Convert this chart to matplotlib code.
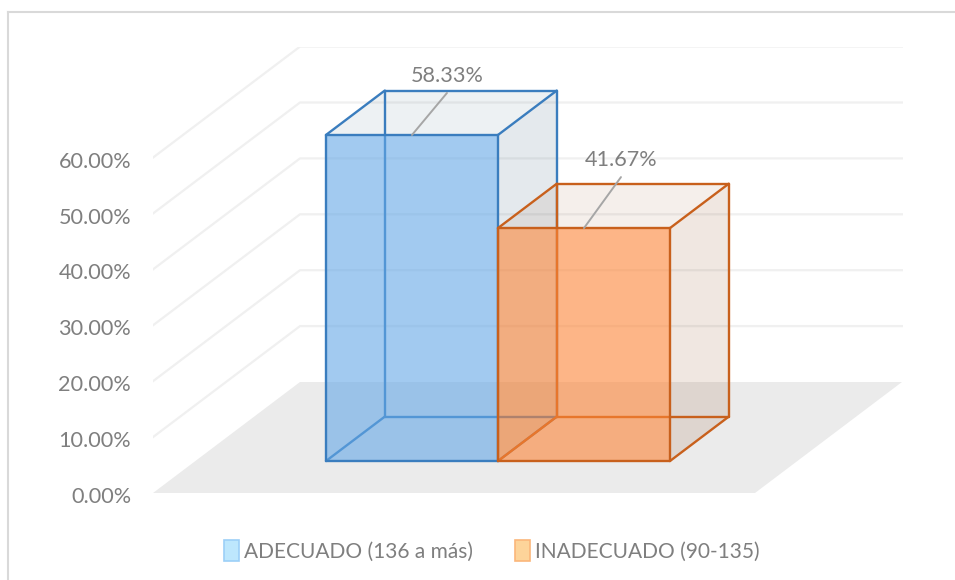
import matplotlib
matplotlib.use("Agg")
import matplotlib.pyplot as plt
from matplotlib.lines import Line2D
from matplotlib.patches import Patch
from matplotlib.transforms import ScaledTranslation

plt.rcParams['font.family'] = ['Lato', 'DejaVu Sans']

series = ["ADECUADO (136 a más)", "INADECUADO (90-135)"]
values = [58.33, 41.67]
yticks = [0, 10, 20, 30, 40, 50, 60]

text_col = "#7F7F7F"
grid_col = "#F0F0F0"
floor_col = "#EBEBEB"
edge_cols = ["#3A7DBE", "#C8601C"]
front_cols = ["#64A7E6", "#FC8537"]
side_cols = ["#24506F", "#843C0C"]
legend_face = ["#BDE7FD", "#FDD49A"]
legend_edge = ["#9CCFF7", "#FBB67A"]

W, H = 955, 580
fig = plt.figure(figsize=(W / 100, H / 100), dpi=100)

# axes run from the floor corner to the far end of the back wall
left, right, top, bottom = 153, 903, 47, 493
ax = fig.add_axes([left / W, 1 - bottom / H, (right - left) / W, (bottom - top) / H])
px_per_x = 602
px_per_val = 5.59
ax.set_xlim(0, (right - left) / px_per_x)
ax.set_ylim(0, (bottom - top) / px_per_val)

depth_x = 147 / px_per_x
depth_y = 111 / px_per_val


def proj(x, v, d):
    # d is depth into the chart, 0 at the front and 1 at the back wall
    return x + d * depth_x, v + d * depth_y


def face(pts, **kw):
    xs, ys = zip(*[proj(*p) for p in pts])
    ax.fill(xs, ys, lw=0, **kw)


def edge(a, b, col, z, lw=1.7):
    xa, ya = proj(*a)
    xb, yb = proj(*b)
    ax.plot([xa, xb], [ya, yb], color=col, lw=lw, zorder=z, solid_capstyle='round')


# floor and gridlines
face([(0, 0, 0), (1, 0, 0), (1, 0, 1), (0, 0, 1)], color=floor_col, zorder=1)
for t in yticks[1:]:
    xs, ys = zip(proj(0, t, 0), proj(0, t, 1), proj(1, t, 1))
    ax.plot(xs, ys, color=grid_col, lw=1.6, zorder=1)

# bars
bar_w = 172 / px_per_x
x0 = 0.217
d0 = 0.288
d1 = 0.688
for i, v in enumerate(values):
    a = x0 + i * bar_w
    b = a + bar_w
    z = 2 + i * 3
    c = edge_cols[i]
    # back part
    face([(a, v, d0), (b, v, d0), (b, v, d1), (a, v, d1)], color=side_cols[i], alpha=0.08, zorder=z)
    face([(b, 0, d0), (b, v, d0), (b, v, d1), (b, 0, d1)], color=side_cols[i], alpha=0.12, zorder=z)
    edge((a, 0, d1), (a, v, d1), c, z)
    edge((b, 0, d1), (b, v, d1), c, z)
    edge((a, 0, d1), (b, 0, d1), c, z)
    edge((a, v, d1), (b, v, d1), c, z)
    edge((a, 0, d0), (a, 0, d1), c, z)
    edge((b, 0, d0), (b, 0, d1), c, z)
    # front part
    face([(a, 0, d0), (b, 0, d0), (b, v, d0), (a, v, d0)], color=front_cols[i], alpha=0.6, zorder=z + 1)
    edge((a, v, d0), (a, v, d1), c, z + 2)
    edge((b, v, d0), (b, v, d1), c, z + 2)
    edge((a, 0, d0), (b, 0, d0), c, z + 2)
    edge((a, v, d0), (b, v, d0), c, z + 2)
    edge((a, 0, d0), (a, v, d0), c, z + 2)
    edge((b, 0, d0), (b, v, d0), c, z + 2)

# data labels with leader lines
offsets = [(35, 59), (37, 68)]
for i, v in enumerate(values):
    mid = x0 + (i + 0.5) * bar_w
    xy = proj(mid, v, d0)
    dx, dy = offsets[i]
    ax.annotate("%.2f%%" % v, xy=xy, xytext=(dx * 0.72, dy * 0.72), textcoords='offset points',
                ha='center', va='center', fontsize=15.6, color=text_col, zorder=20)
    ax.annotate("", xy=xy, xytext=(dx * 0.72, (dy - 17) * 0.72), textcoords='offset points', zorder=20,
                arrowprops=dict(arrowstyle='-', color="#A6A6A6", lw=1.4, shrinkA=0, shrinkB=0))

ax.set_xticks([])
ax.set_yticks(yticks)
ax.set_yticklabels(["%.2f%%" % t for t in yticks], fontsize=15.6, color=text_col)
ax.tick_params(axis='y', length=0, pad=15.8)
shift = ScaledTranslation(0, -2 / 100, fig.dpi_scale_trans)
for lab in ax.get_yticklabels():
    lab.set_transform(lab.get_transform() + shift)
for s in ax.spines.values():
    s.set_visible(False)
ax.patch.set_visible(False)

handles = [Patch(facecolor=legend_face[i], edgecolor=legend_edge[i], lw=1.2, label=series[i]) for i in range(2)]
fig.legend(handles=handles, loc='center', bbox_to_anchor=(492 / W, 1 - 551 / H), ncol=2, frameon=False,
           fontsize=15, labelcolor=text_col, handlelength=0.72, handleheight=1.15,
           handletextpad=0.24, columnspacing=2.0)

# chart frame
fig.add_artist(Line2D([8 / W, 8 / W], [0, 1 - 12 / H], color="#D9D9D9", lw=1.5))
fig.add_artist(Line2D([8 / W, 1], [1 - 12 / H, 1 - 12 / H], color="#D9D9D9", lw=1.5))

fig.savefig("out.png", dpi=100)
